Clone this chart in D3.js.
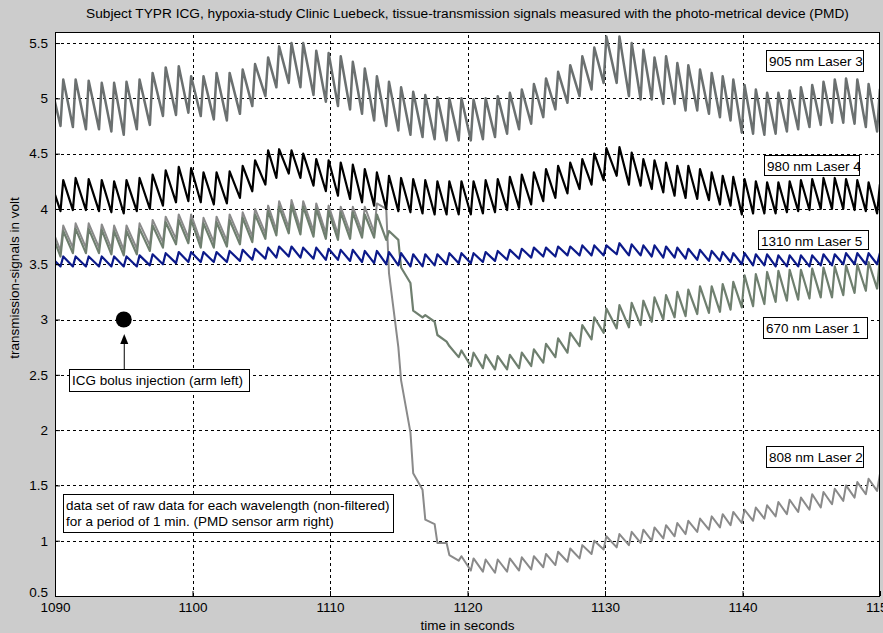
<!DOCTYPE html>
<meta charset="utf-8" />
<script src="https://d3js.org/d3.v7.min.js"></script>
<style>
  body { margin: 0; background: #cccccc; }
  svg { display: block; font-family: "Liberation Sans", Arial, sans-serif; }
</style>
<body>
<div id="chart"></div>
<script>
// beat (pulse peak) times in seconds, shared by all wavelengths
var beatTimes = [
  1089.75, 1090.6, 1091.5, 1092.45, 1093.4, 1094.3, 1095.2, 1096.15, 1097.1, 1098.05, 1099.0, 1099.9,
  1100.8, 1101.75, 1102.7, 1103.65, 1104.55, 1105.5, 1106.3, 1107.2, 1108.05, 1109.0, 1109.9,
  1110.78, 1111.66, 1112.53, 1113.41, 1114.29, 1115.17, 1116.05, 1116.93, 1117.81, 1118.68, 1119.56, 1120.44,
  1121.32, 1122.2, 1123.08, 1123.95, 1124.83, 1125.71, 1126.59, 1127.47, 1128.35, 1129.22, 1130.1,
  1131.05, 1131.94, 1132.79, 1133.6, 1134.44, 1135.26, 1136.06, 1136.91, 1137.76, 1138.56, 1139.33,
  1140.15, 1140.97, 1141.79, 1142.61, 1143.43, 1144.25, 1145.07, 1145.89, 1146.71, 1147.53, 1148.35, 1149.17, 1149.99, 1150.8
];

// value at foot of each pulse (lo) and at its top (hi), volt
var s905Hi = [5.1, 5.17, 5.17, 5.16, 5.14, 5.14, 5.15, 5.17, 5.23, 5.28, 5.29, 5.2,
  5.2, 5.23, 5.23, 5.26, 5.31, 5.37, 5.47, 5.5, 5.5, 5.43, 5.41,
  5.38, 5.33, 5.27, 5.2, 5.15, 5.1, 5.06, 5.03, 5.01, 5.0, 5.0, 4.99, 5.0, 5.02, 5.05, 5.08, 5.13, 5.18, 5.24, 5.3, 5.38, 5.46, 5.56,
  5.56, 5.5, 5.44, 5.37, 5.38, 5.32, 5.3, 5.26, 5.23, 5.2, 5.17,
  5.12, 5.08, 5.05, 5.05, 5.07, 5.1, 5.12, 5.15, 5.17, 5.18, 5.17, 5.13, 5.08, 5.03];
var s905Lo = [4.8, 4.75, 4.74, 4.72, 4.72, 4.7, 4.67, 4.72, 4.76, 4.84, 4.85, 4.87,
  4.84, 4.81, 4.8, 4.86, 4.93, 5.02, 5.1, 5.14, 5.1, 5.03, 4.97,
  4.93, 4.9, 4.86, 4.8, 4.75, 4.71, 4.67, 4.65, 4.63, 4.62, 4.62, 4.62, 4.63, 4.65, 4.68, 4.72, 4.77, 4.83, 4.9, 4.96, 5.02, 5.08, 5.14,
  5.14, 5.02, 4.99, 4.99, 4.95, 4.95, 4.89, 4.89, 4.86, 4.83, 4.8,
  4.69, 4.68, 4.67, 4.68, 4.7, 4.72, 4.74, 4.76, 4.78, 4.78, 4.77, 4.74, 4.7, 4.68];

var s980Hi = [4.22, 4.26, 4.28, 4.27, 4.26, 4.25, 4.26, 4.28, 4.31, 4.35, 4.38, 4.37,
  4.33, 4.33, 4.34, 4.39, 4.44, 4.53, 4.54, 4.53, 4.5, 4.45, 4.44,
  4.42, 4.4, 4.36, 4.33, 4.3, 4.28, 4.27, 4.26, 4.25, 4.25, 4.25, 4.25, 4.26, 4.27, 4.29, 4.31, 4.33, 4.36, 4.39, 4.42, 4.45, 4.5, 4.55,
  4.56, 4.51, 4.45, 4.44, 4.42, 4.39, 4.39, 4.36, 4.33, 4.3, 4.29,
  4.27, 4.25, 4.24, 4.24, 4.25, 4.26, 4.27, 4.28, 4.28, 4.27, 4.26, 4.24, 4.22, 4.2];
var s980Lo = [3.98, 3.98, 3.99, 3.99, 3.98, 3.97, 3.96, 3.98, 4.0, 4.03, 4.06, 4.07,
  4.06, 4.04, 4.05, 4.1, 4.16, 4.22, 4.28, 4.32, 4.28, 4.21, 4.16,
  4.12, 4.09, 4.06, 4.03, 4.0, 3.98, 3.97, 3.96, 3.95, 3.95, 3.95, 3.95, 3.96, 3.97, 3.99, 4.01, 4.04, 4.07, 4.1, 4.14, 4.18, 4.22, 4.26,
  4.3, 4.22, 4.21, 4.18, 4.15, 4.12, 4.1, 4.09, 4.08, 4.04, 4.03,
  3.95, 3.96, 3.96, 3.96, 3.97, 3.98, 3.99, 4.0, 4.0, 4.0, 3.99, 3.98, 3.96, 3.95];

var s1310Hi = [3.56, 3.57, 3.57, 3.57, 3.57, 3.57, 3.57, 3.58, 3.59, 3.6, 3.61, 3.61,
  3.61, 3.61, 3.62, 3.63, 3.64, 3.65, 3.66, 3.66, 3.65, 3.65, 3.64,
  3.63, 3.63, 3.62, 3.62, 3.61, 3.6, 3.59, 3.59, 3.59, 3.6, 3.6, 3.6, 3.61, 3.62, 3.63, 3.64, 3.65, 3.65, 3.66, 3.66, 3.67, 3.67, 3.67,
  3.69, 3.68, 3.67, 3.67, 3.66, 3.65, 3.64, 3.63, 3.62, 3.61, 3.6,
  3.6, 3.59, 3.59, 3.58, 3.58, 3.58, 3.58, 3.59, 3.59, 3.6, 3.6, 3.6, 3.6, 3.6];
var s1310Lo = [3.48, 3.48, 3.48, 3.48, 3.48, 3.48, 3.48, 3.48, 3.49, 3.5, 3.51, 3.52,
  3.52, 3.52, 3.52, 3.53, 3.54, 3.55, 3.56, 3.57, 3.56, 3.55, 3.54,
  3.54, 3.53, 3.52, 3.51, 3.5, 3.49, 3.48, 3.48, 3.49, 3.5, 3.51, 3.51, 3.52, 3.53, 3.54, 3.55, 3.56, 3.57, 3.57, 3.58, 3.58, 3.58, 3.58,
  3.59, 3.58, 3.58, 3.57, 3.56, 3.56, 3.55, 3.54, 3.53, 3.53, 3.52,
  3.5, 3.49, 3.49, 3.48, 3.48, 3.48, 3.48, 3.49, 3.49, 3.5, 3.5, 3.5, 3.5, 3.5];

var s670Hi = [3.78, 3.8, 3.82, 3.82, 3.81, 3.8, 3.8, 3.82, 3.85, 3.88, 3.9, 3.9,
  3.87, 3.88, 3.9, 3.92, 3.95, 3.98, 4.02, 4.03, 4.02, 4.0, 3.98,
  3.97, 3.97, 3.95, 3.95, 3.8, 3.47, 3.08, 3.04, 2.86, 2.76, 2.72, 2.7,
  2.68, 2.67, 2.68, 2.7, 2.73, 2.78, 2.83, 2.88, 2.95, 3.02, 3.1,
  3.13, 3.15, 3.17, 3.2, 3.22, 3.25, 3.27, 3.3, 3.3, 3.32, 3.34,
  3.4, 3.41, 3.43, 3.44, 3.45, 3.45, 3.46, 3.47, 3.48, 3.49, 3.5, 3.52, 3.55, 3.56];
var s670Lo = [3.55, 3.57, 3.6, 3.6, 3.6, 3.59, 3.58, 3.59, 3.62, 3.65, 3.68, 3.69,
  3.65, 3.65, 3.66, 3.68, 3.7, 3.73, 3.76, 3.78, 3.77, 3.75, 3.73,
  3.72, 3.73, 3.74, 3.74, 3.72, 3.72, 3.33, 3.02, 2.98, 2.8, 2.66, 2.58,
  2.56, 2.55, 2.55, 2.56, 2.58, 2.61, 2.66, 2.7, 2.76, 2.82, 2.88,
  2.92, 2.93, 2.95, 2.98, 3.0, 3.02, 3.03, 3.05, 3.06, 3.07, 3.09,
  3.11, 3.12, 3.14, 3.16, 3.17, 3.18, 3.19, 3.2, 3.2, 3.22, 3.24, 3.26, 3.28, 3.3];

var s808Hi = [3.83, 3.85, 3.87, 3.87, 3.86, 3.85, 3.85, 3.87, 3.9, 3.93, 3.95, 3.95,
  3.92, 3.93, 3.95, 3.97, 4.0, 4.03, 4.07, 4.08, 4.07, 4.05, 4.03,
  4.02, 4.02, 4.02, 4.05, 3.42, 2.45, 1.61, 1.19, 0.98, 0.87, 0.86, 0.84,
  0.83, 0.83, 0.84, 0.85, 0.86, 0.88, 0.9, 0.93, 0.96, 1.0, 1.04,
  1.06, 1.08, 1.1, 1.12, 1.14, 1.16, 1.18, 1.2, 1.22, 1.24, 1.26,
  1.28, 1.3, 1.32, 1.35, 1.37, 1.39, 1.42, 1.44, 1.47, 1.5, 1.53, 1.56, 1.6, 1.62];
var s808Lo = [3.6, 3.62, 3.65, 3.65, 3.65, 3.64, 3.63, 3.64, 3.67, 3.7, 3.73, 3.74,
  3.7, 3.7, 3.71, 3.73, 3.75, 3.78, 3.81, 3.83, 3.82, 3.8, 3.78,
  3.77, 3.78, 3.79, 3.79, 4.0, 2.75, 1.98, 1.46, 1.15, 0.98, 0.82, 0.73,
  0.72, 0.71, 0.72, 0.73, 0.74, 0.76, 0.78, 0.81, 0.84, 0.88, 0.92,
  0.94, 0.96, 0.98, 1.0, 1.02, 1.04, 1.06, 1.08, 1.1, 1.12, 1.14,
  1.16, 1.18, 1.2, 1.22, 1.24, 1.26, 1.28, 1.3, 1.33, 1.36, 1.39, 1.42, 1.45, 1.48];

var xTicks = [1090, 1100, 1110, 1120, 1130, 1140, 1150];
var yTicks = [0.5, 1, 1.5, 2, 2.5, 3, 3.5, 4, 4.5, 5, 5.5];

var width = 883, height = 633;
var margin = { top: 32, right: 3, bottom: 37, left: 55 };
var rise = 0.2; // seconds from foot to top of a pulse
var fs = 13.5;

var svg = d3.select("#chart").append("svg")
  .attr("width", width).attr("height", height);

svg.append("rect").attr("width", width).attr("height", height).attr("fill", "#cccccc");

var x = d3.scaleLinear().domain([1090, 1150]).range([margin.left, width - margin.right]);
var y = d3.scaleLinear().domain([0.5, 5.6]).range([height - margin.bottom, margin.top]);

svg.append("rect")
  .attr("x", x(1090)).attr("y", y(5.6))
  .attr("width", x(1150) - x(1090)).attr("height", y(0.5) - y(5.6))
  .attr("fill", "white");

svg.append("clipPath").attr("id", "clip").append("rect")
  .attr("x", x(1090)).attr("y", y(5.6))
  .attr("width", x(1150) - x(1090)).attr("height", y(0.5) - y(5.6));

// grid, dotted like matlab
var grid = svg.append("g").attr("stroke", "#000").attr("stroke-width", 1).attr("stroke-dasharray", "3,3");
grid.selectAll("line.h").data(yTicks.slice(1)).enter().append("line")
  .attr("x1", x(1090)).attr("x2", x(1150))
  .attr("y1", function (d) { return Math.round(y(d)) + 0.5; })
  .attr("y2", function (d) { return Math.round(y(d)) + 0.5; });
grid.selectAll("line.v").data(xTicks.slice(1, -1)).enter().append("line")
  .attr("y1", y(0.5)).attr("y2", y(5.6))
  .attr("x1", function (d) { return Math.round(x(d)) + 0.5; })
  .attr("x2", function (d) { return Math.round(x(d)) + 0.5; });

function pulsePoints(lo, hi) {
  var pts = [];
  beatTimes.forEach(function (t, i) {
    pts.push([t - rise, lo[i]]);
    pts.push([t, hi[i]]);
  });
  return pts;
}

var series = [
  { lo: s808Lo, hi: s808Hi, color: "#8a8a8a", w: 2 },
  { lo: s670Lo, hi: s670Hi, color: "#6f7f6f", w: 2.2 },
  { lo: s905Lo, hi: s905Hi, color: "#6b7070", w: 2.5 },
  { lo: s980Lo, hi: s980Hi, color: "#000000", w: 2.2 },
  { lo: s1310Lo, hi: s1310Hi, color: "#0c1a8a", w: 2.2 }
];

var line = d3.line()
  .x(function (d) { return x(d[0]); })
  .y(function (d) { return y(d[1]); });

svg.append("g").attr("clip-path", "url(#clip)")
  .selectAll("path").data(series).enter().append("path")
  .attr("fill", "none")
  .attr("stroke", function (d) { return d.color; })
  .attr("stroke-width", function (d) { return d.w; })
  .attr("stroke-linejoin", "round")
  .attr("d", function (d) { return line(pulsePoints(d.lo, d.hi)); });

// axes box and inner ticks
svg.append("rect")
  .attr("x", x(1090) + 0.5).attr("y", y(5.6) + 0.5)
  .attr("width", x(1150) - x(1090) - 1).attr("height", y(0.5) - y(5.6))
  .attr("fill", "none").attr("stroke", "#000");
var yAxis = d3.axisLeft(y).tickValues(yTicks).tickSize(-5).tickPadding(7)
  .tickFormat(function (d) { return String(d); });
var xAxis = d3.axisBottom(x).tickValues(xTicks).tickSize(-5).tickPadding(9)
  .tickFormat(function (d) { return String(d); });
var ya = svg.append("g").attr("transform", "translate(" + x(1090) + ",0)").call(yAxis);
var xa = svg.append("g").attr("transform", "translate(0," + y(0.5) + ")").call(xAxis);
[ya, xa].forEach(function (g) {
  g.select(".domain").remove();
  g.selectAll("line").attr("stroke", "#000");
  g.selectAll("text").attr("font-size", fs).attr("fill", "#000")
    .attr("font-family", "Liberation Sans, Arial, sans-serif");
});
xa.selectAll("text").attr("dy", "0.55em");
ya.selectAll("text").filter(function (d) { return d === 0.5; }).attr("dy", "0.05em");

svg.append("text").attr("x", (x(1090) + x(1150)) / 2).attr("y", 18)
  .attr("text-anchor", "middle").attr("font-size", 13.7)
  .text("Subject TYPR ICG, hypoxia-study Clinic Luebeck, tissue-transmission signals measured with the photo-metrical device (PMD)");
svg.append("text").attr("x", (x(1090) + x(1150)) / 2).attr("y", 630)
  .attr("text-anchor", "middle").attr("font-size", fs).text("time in seconds");
svg.append("text").attr("transform", "translate(19,278) rotate(-90)")
  .attr("text-anchor", "middle").attr("font-size", fs).text("transmission-signals in volt");

// boxed labels
function boxLabel(lines, bx, by, bw, bh) {
  var g = svg.append("g");
  g.append("rect").attr("x", bx + 0.5).attr("y", by + 0.5).attr("width", bw).attr("height", bh)
    .attr("fill", "white").attr("stroke", "#000");
  lines.forEach(function (s, i) {
    g.append("text").attr("x", bx + 3).attr("y", by + 15.5 + i * 16)
      .attr("font-size", fs).text(s);
  });
}
boxLabel(["905 nm Laser 3"], 766, 50, 97, 21);
boxLabel(["980 nm Laser 4"], 764, 155, 95, 20);
boxLabel(["1310 nm Laser 5"], 758, 230, 110, 19);
boxLabel(["670 nm Laser 1"], 763, 317, 104, 21);
boxLabel(["808 nm Laser 2"], 766, 446, 97, 21);
boxLabel(["ICG bolus injection (arm left)"], 69, 369, 180, 22);
boxLabel(["data set of raw data for each wavelength (non-filtered)",
  "for a period of 1 min. (PMD sensor arm right)"], 63, 494, 330, 38);

// bolus marker and arrow
svg.append("circle").attr("cx", x(1095)).attr("cy", y(3)).attr("r", 8).attr("fill", "#000");
svg.append("line").attr("x1", x(1095) + 0.5).attr("x2", x(1095) + 0.5)
  .attr("y1", 369).attr("y2", 342).attr("stroke", "#000").attr("stroke-width", 1);
svg.append("path")
  .attr("d", "M" + (x(1095) - 3.5) + ",344 L" + (x(1095) + 4.5) + ",344 L" + (x(1095) + 0.5) + ",334 Z")
  .attr("fill", "#000");
</script>
</body>
